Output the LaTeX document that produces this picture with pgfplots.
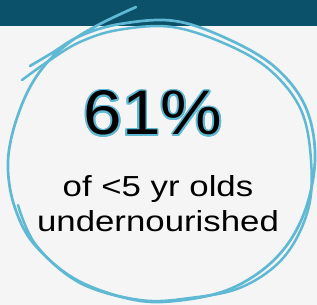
\documentclass[border=0pt]{standalone}
\usepackage{pgfplots}
\pgfplotsset{compat=1.18}
\usepackage{fontspec}
\setmainfont{Liberation Sans}
\usepackage{contour}
\contourlength{1.6pt}
\definecolor{bar}{HTML}{0A5169}
\definecolor{bg}{HTML}{F5F5F5}
\definecolor{ring}{HTML}{5FB9D4}
\begin{document}
\begin{tikzpicture}
\begin{axis}[scale only axis, width=317pt, height=305pt,
  xmin=0, xmax=317, ymin=0, ymax=305, y dir=reverse, hide axis]
\fill[bg] (axis cs:0,0) rectangle (axis cs:317,305);
\fill[bar] (axis cs:0,0) rectangle (axis cs:317,26);
% stroke 1
\addplot[ring, line width=2.7pt, smooth, tension=0.6, line cap=round] coordinates {
(136,7) (100,24) (70,42) (45,65) (26,95) (12,135) (8,170) (15,208) (34,244)
(75,279) (130,299) (175,301) (230,289) (275,259) (303,216) (315,160) (306,108)
(276,68) (230,40) (175,21) (120,24) (80,36) (52,53) (30,66)};
% stroke 2
\addplot[ring, line width=2.5pt, smooth, tension=0.6, line cap=round] coordinates {
(18,205) (36,245) (80,283) (140,300) (190,298) (242,287) (284,257) (308,210)
(311,160) (301,110) (271,71) (228,45) (172,27) (118,30) (80,42) (50,60) (22,80)};
\node[anchor=base] at (axis cs:153,135)
  {\fontsize{63}{63}\selectfont\scalebox{1.1}[1]{\contour{ring}{61\%}}};
\node[anchor=base] at (axis cs:158,197)
  {\fontsize{29}{29}\selectfont\scalebox{1.2}[1]{of <5 yr olds}};
\node[anchor=base] at (axis cs:158,232)
  {\fontsize{29}{29}\selectfont\scalebox{1.2}[1]{undernourished}};
\end{axis}
\end{tikzpicture}
\end{document}
